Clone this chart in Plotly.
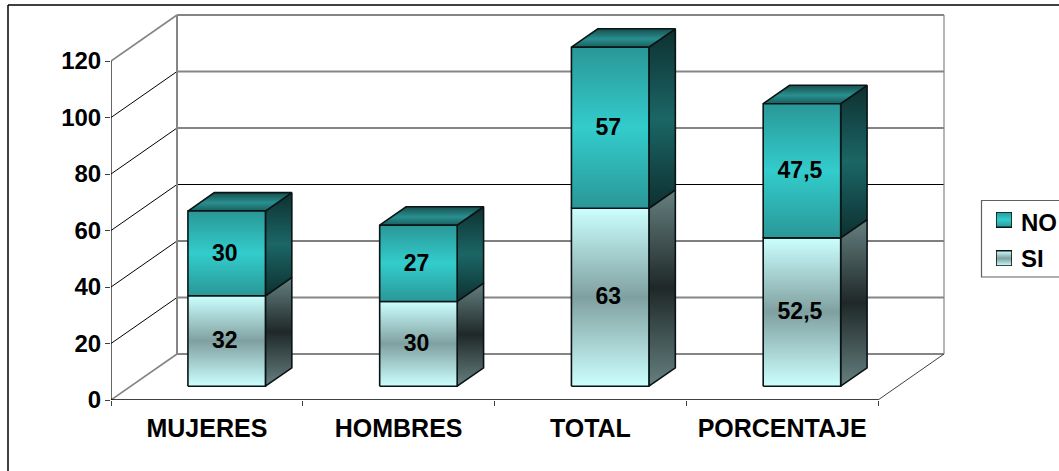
import plotly.graph_objects as go

# ---- data ----
categories = ["MUJERES", "HOMBRES", "TOTAL", "PORCENTAJE"]
si_values = [32, 30, 63, 52.5]
no_values = [30, 27, 57, 47.5]
si_labels = ["32", "30", "63", "52,5"]
no_labels = ["30", "27", "57", "47,5"]
y_ticks = [0, 20, 40, 60, 80, 100, 120]
legend_names = ["NO", "SI"]

# ---- layout constants ----
W, H = 1059, 471
X0, Y0 = 111, 400          # pixel of the front-plane origin
PX_CAT, PX_VAL = 191.75, 2.825
DX, DY = 66 / PX_CAT, 46 / PX_VAL     # depth of the floor, in axis units
BAR_W = 77.5 / PX_CAT
D0, D1 = 0.30, 0.70        # bar front/back depth as a fraction of floor depth
LABEL_DX, LABEL_DY = -2 / PX_CAT, -1.5 / PX_VAL
FONT = "Liberation Sans, Arial, sans-serif"

GREY, BLACK = "#858585", "#000000"
grid_colors = {0: GREY, 20: GREY, 40: BLACK, 60: BLACK, 80: GREY, 100: GREY, 120: GREY}
grid_widths = {0: 2, 20: 2, 40: 1.2, 60: 1.2, 80: 2, 100: 2, 120: 2}

NO_FRONT = [[0, "#2A9797"], [0.5, "#33CCCC"], [1, "#2A9797"]]
NO_SIDE = [[0, "#0E3030"], [0.5, "#1B6666"], [1, "#0E3030"]]
NO_TOP = [[0, "#185F5F"], [0.45, "#2A8F8F"], [1, "#174F4F"]]
SI_FRONT = [[0, "#CCFFFF"], [0.5, "#80A0A0"], [1, "#CCFFFF"]]
SI_SIDE = [[0, "#668080"], [0.5, "#1F2828"], [1, "#668080"]]

fig = go.Figure()


def line(xs, ys, color, width):
    fig.add_trace(go.Scatter(x=xs, y=ys, mode="lines", line=dict(color=color, width=width),
                             hoverinfo="skip", showlegend=False, cliponaxis=False))


def face(xs, ys, scale, xaxis="x", yaxis="y"):
    fig.add_trace(go.Scatter(x=xs + xs[:1], y=ys + ys[:1], mode="lines", fill="toself",
                             fillgradient=dict(type="vertical", colorscale=scale),
                             line=dict(color="#0A1414", width=1.6),
                             hoverinfo="skip", showlegend=False, cliponaxis=False,
                             xaxis=xaxis, yaxis=yaxis))


n = len(categories)
# walls and floor
for t in y_ticks:
    thin = t not in (0, 120)
    line([0, DX], [t, t + DY], BLACK if thin else GREY, 1 if thin else 1.6)
    line([DX, DX + n], [t + DY, t + DY], grid_colors[t], grid_widths[t])
line([DX, DX], [DY, 120 + DY], GREY, 2)
line([DX + n, DX + n], [DY, 120 + DY], GREY, 1.2)
line([n, n + DX], [0, DY], "#404040", 1)
# axes
line([0, 0], [0, 120], "#000000", 1.2)
line([0, n], [0, 0], "#000000", 1.6)


def prism(cx, base, value, front, side, top=None):
    xa = cx - BAR_W / 2 + D0 * DX
    xb = cx + BAR_W / 2 + D0 * DX
    lo = base + D0 * DY
    hi = base + value + D0 * DY
    ddx, ddy = (D1 - D0) * DX, (D1 - D0) * DY
    face([xb, xb + ddx, xb + ddx, xb], [lo, lo + ddy, hi + ddy, hi], side)
    if top:
        face([xa, xa + ddx, xb + ddx, xb], [hi, hi + ddy, hi + ddy, hi], top)
    face([xa, xb, xb, xa], [lo, lo, hi, hi], front)


label_x, label_y, label_t = [], [], []
for i in range(n):
    cx = i + 0.5
    prism(cx, 0, si_values[i], SI_FRONT, SI_SIDE)
    prism(cx, si_values[i], no_values[i], NO_FRONT, NO_SIDE, NO_TOP)
    label_x += [cx + D0 * DX + LABEL_DX] * 2
    label_y += [si_values[i] / 2 + D0 * DY + LABEL_DY,
                si_values[i] + no_values[i] / 2 + D0 * DY + LABEL_DY]
    label_t += [si_labels[i], no_labels[i]]

fig.add_trace(go.Scatter(x=label_x, y=label_y, text=label_t, mode="text",
                         textfont=dict(family=FONT, size=23, color="#000000", weight="bold"),
                         textposition="middle center", hoverinfo="skip",
                         showlegend=False, cliponaxis=False))

# legend keys, on their own small axes that span the legend box
face([0, 1, 1, 0], [1.0, 1.0, 2.0, 2.0], NO_FRONT, "x2", "y2")
face([0, 1, 1, 0], [-1.55, -1.55, -0.55, -0.55], SI_FRONT, "x2", "y2")

fig.update_layout(
    width=W, height=H, autosize=False, margin=dict(l=0, r=0, t=0, b=0, autoexpand=False),
    paper_bgcolor="white", plot_bgcolor="white", showlegend=False,
    font=dict(family=FONT, color="#000000"),
    xaxis=dict(domain=[X0 / W, 1], range=[0, (W - X0) / PX_CAT], showgrid=False, zeroline=False,
               automargin=False,
               showline=False, tickmode="array", tickvals=[i + 0.5 for i in range(n)],
               ticktext=categories, ticks="", ticklabelstandoff=11,
               tickfont=dict(family=FONT, size=25, weight="bold"),
               minor=dict(tickmode="array", tickvals=list(range(n + 1)), ticks="outside",
                          ticklen=5, tickwidth=1, tickcolor="#404040", showgrid=False)),
    yaxis=dict(domain=[(H - Y0) / H, 1], range=[0, Y0 / PX_VAL], showgrid=False, zeroline=False,
               automargin=False,
               showline=False, tickmode="array", tickvals=y_ticks,
               ticks="outside", ticklen=5, tickwidth=1, tickcolor="#404040", ticklabelstandoff=-1,
               tickfont=dict(family=FONT, size=24, weight="bold")),
    xaxis2=dict(domain=[996 / W, 1012 / W], range=[0, 1], visible=False, anchor="y2", automargin=False),
    yaxis2=dict(domain=[(H - 266) / H, (H - 212) / H], range=[-1.55, 2], visible=False, anchor="x2", automargin=False),
    shapes=[
        dict(type="line", xref="paper", yref="paper", x0=8 / W, x1=8 / W, y0=0, y1=1 - 5 / H,
             line=dict(color="#000000", width=1.5)),
        dict(type="line", xref="paper", yref="paper", x0=8 / W, x1=1, y0=1 - 5 / H, y1=1 - 5 / H,
             line=dict(color="#000000", width=1.5)),
        dict(type="rect", xref="paper", yref="paper", x0=981.5 / W, x1=1.01, y0=1 - 277 / H,
             y1=1 - 200.5 / H, line=dict(color="#606060", width=1.2), fillcolor="white", layer="below"),
    ],
    annotations=[
        dict(xref="paper", yref="paper", x=1019 / W, y=1 - 222 / H, text=legend_names[0], showarrow=False,
             xanchor="left", yanchor="middle", font=dict(family=FONT, size=24, weight="bold")),
        dict(xref="paper", yref="paper", x=1019 / W, y=1 - 258.5 / H, text=legend_names[1], showarrow=False,
             xanchor="left", yanchor="middle", font=dict(family=FONT, size=24, weight="bold")),
    ],
)

fig.write_html("out.html", post_script="document.body.style.margin='0';",
               config=dict(displayModeBar=False))
